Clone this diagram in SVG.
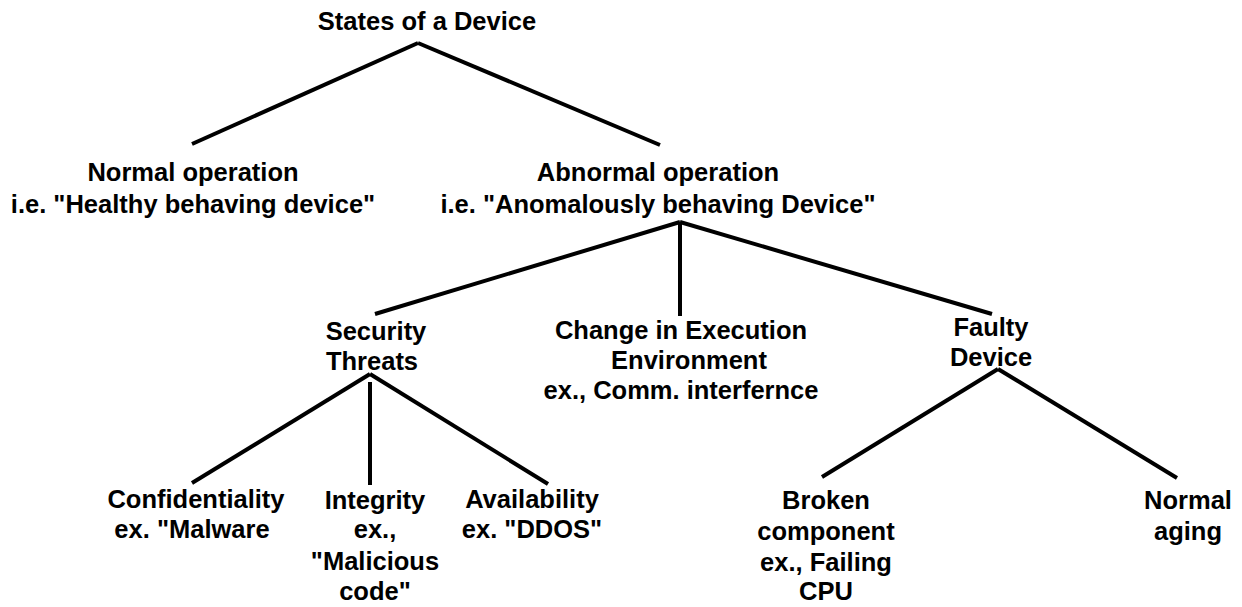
<svg xmlns="http://www.w3.org/2000/svg" width="1242" height="607" viewBox="0 0 1242 607">
<style>
text{font-family:"Liberation Sans",Arial,sans-serif;font-weight:bold;font-size:25.5px;fill:#000;text-anchor:middle}
.c line{stroke:#000;stroke-width:4;stroke-linecap:butt}
</style>
<rect width="1242" height="607" fill="#fff"/>
<g class="c" id="connectors">
<line x1="418" y1="43" x2="192" y2="144"/>
<line x1="418" y1="43" x2="660" y2="145"/>
<line x1="680" y1="222" x2="375" y2="314"/>
<line x1="680" y1="222" x2="680" y2="316"/>
<line x1="680" y1="222" x2="992" y2="314"/>
<line x1="370" y1="374" x2="192" y2="483"/>
<line x1="370" y1="382" x2="370" y2="485"/>
<line x1="370" y1="374" x2="548" y2="484"/>
<line x1="998" y1="369" x2="822" y2="477"/>
<line x1="998" y1="369" x2="1177" y2="478"/>
</g>
<g id="root"><text x="427" y="30">States of a Device</text></g>
<g id="normal"><text x="193" y="181">Normal operation</text><text x="193" y="213">i.e. "Healthy behaving device"</text></g>
<g id="abnormal"><text x="658" y="181">Abnormal operation</text><text x="658" y="213">i.e. "Anomalously behaving Device"</text></g>
<g id="security"><text x="376" y="340">Security</text><text x="372" y="370">Threats</text></g>
<g id="change"><text x="681" y="339">Change in Execution</text><text x="689" y="369">Environment</text><text x="681" y="399">ex., Comm. interfernce</text></g>
<g id="faulty"><text x="991" y="336">Faulty</text><text x="991" y="366">Device</text></g>
<g id="confidentiality"><text x="196" y="508">Confidentiality</text><text x="192" y="538">ex. "Malware</text></g>
<g id="integrity"><text x="375" y="509">Integrity</text><text x="375" y="538">ex.,</text><text x="375" y="570">"Malicious</text><text x="375" y="600">code"</text></g>
<g id="availability"><text x="532" y="508">Availability</text><text x="532" y="538">ex. "DDOS"</text></g>
<g id="broken"><text x="826" y="509">Broken</text><text x="826" y="540">component</text><text x="826" y="571">ex., Failing</text><text x="826" y="600">CPU</text></g>
<g id="aging"><text x="1188" y="509">Normal</text><text x="1188" y="540">aging</text></g>
</svg>
